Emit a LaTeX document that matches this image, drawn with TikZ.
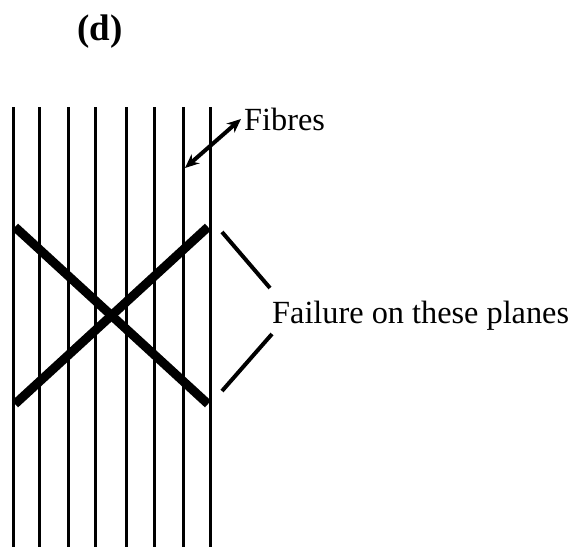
\documentclass[tikz,border=0pt]{standalone}
\usepackage{fontspec}
\setmainfont{Liberation Serif}
\usetikzlibrary{arrows.meta,positioning}

\begin{document}
\begin{tikzpicture}[x=1pt,y=-1pt,
  fibre/.style={line width=3pt},
  plane/.style={line width=9pt},
  lead/.style={line width=4pt},
  lbl/.style={inner sep=0pt,font=\fontsize{32.3}{38}\selectfont}]
  \useasboundingbox (0,0) rectangle (574,547);
  % fibres
  \foreach \x in {13,39,68,95,126,154,183,210}
    \draw[fibre] (\x,107)--(\x,547);
  % failure planes
  \draw[plane] (15,227)--(208,404);
  \draw[plane] (15,404)--(208,227);
  % labels
  \node[lbl,font=\fontsize{37}{40}\selectfont\bfseries,anchor=base west] (title) at (77,40) {(d)};
  \node[lbl,anchor=base west] (fibres) at (244,130) {Fibres};
  \node[lbl,anchor=base west] (failure) at (272,323) {Failure on these planes};
  \coordinate (fibrept) at (185,168);
  \coordinate (upA) at (222,232);
  \coordinate (upB) at (270,288);
  \coordinate (loA) at (272,334);
  \coordinate (loB) at (222,391);
  \draw[lead,{Stealth[length=14pt,width=12pt]}-{Stealth[length=14pt,width=12pt]}] ([xshift=-3pt]fibres.west) -- (fibrept);
  \draw[lead] (upA)--(upB);
  \draw[lead] (loA)--(loB);
\end{tikzpicture}
\end{document}
